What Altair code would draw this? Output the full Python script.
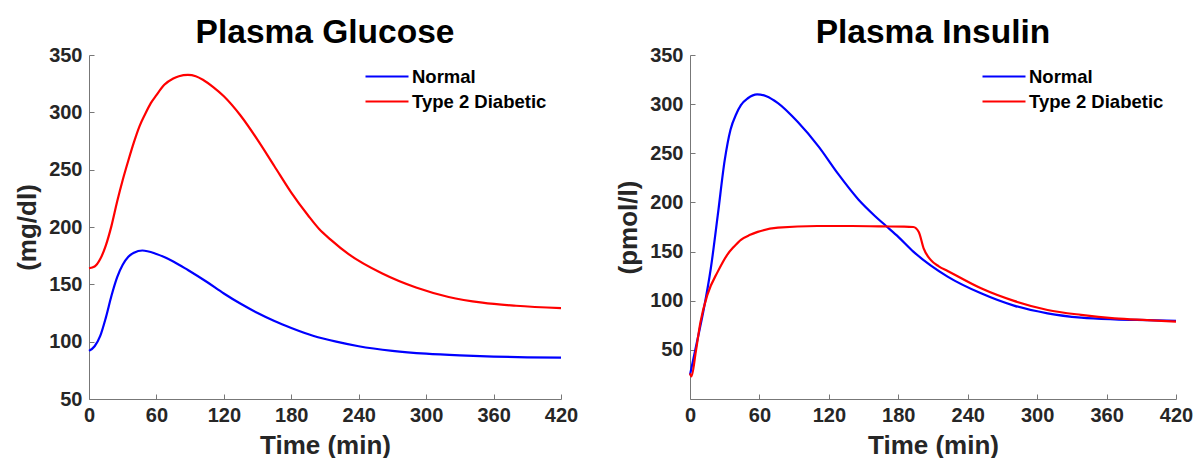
import altair as alt
import pandas as pd

SERIES = ["Normal", "Type 2 Diabetic"]
COLORS = ["#0000FF", "#FF0000"]
X_TICKS = [0, 60, 120, 180, 240, 300, 360, 420]
Y_TICKS = [50, 100, 150, 200, 250, 300, 350]

# Plasma glucose (mg/dl)
t_glu_normal = [0, 5, 10, 15, 20, 25, 30, 35, 40, 47.5, 60, 75, 88, 105, 120, 135, 150,
                165, 180, 200, 220, 240, 270, 300, 330, 360, 390, 420]
glu_normal = [92, 96, 105, 121, 140, 156, 167, 174, 177.5, 179.5, 176.5, 170, 162.5, 152,
              142, 133, 125, 118, 112, 105, 100, 96, 92, 89.5, 88, 87, 86.3, 86]

t_glu_t2d = [0, 5, 10, 15, 20, 25, 30, 35, 40, 45, 50, 55, 60, 67, 75, 80, 88, 95, 102,
             110, 120, 135, 150, 165, 180, 195, 205, 215, 231, 261, 291, 320, 350, 380, 420]
glu_t2d = [164, 165.5, 172, 184, 201, 222, 241, 258, 274, 288, 298.5, 308, 315, 324,
           329.5, 331.5, 332.6, 331.5, 328, 322.5, 314, 297, 276, 253, 230, 210, 198,
           189, 176.3, 159.4, 147.2, 139, 134, 131.3, 129.3]

# Plasma insulin (pmol/l)
t_ins_normal = [0, 6, 12, 18, 24, 30, 35, 40, 44, 50, 58, 66, 76, 93, 111, 128, 145.5,
                160, 169, 180, 193, 222.6, 251.5, 280, 309, 338, 367, 395, 420]
ins_normal = [24.6, 58, 92, 133, 187, 243, 274, 290, 299, 306, 310, 308, 301, 282, 257,
              229, 203, 186, 176.5, 165, 150, 124.5, 107.5, 95, 87.2, 82.8, 81, 80.2, 79.5]

t_ins_t2d = [0, 1.2, 5, 9, 15, 24, 32, 38, 44, 52, 58.5, 76, 110, 140, 165, 185, 193,
             197.7, 202, 208, 215, 222.6, 251.5, 280, 309, 338, 367, 395, 420]
ins_t2d = [26, 23, 48, 78, 106, 129.6, 146.5, 155, 162, 167, 170, 174.3, 176, 176,
           175.6, 175.4, 175, 170, 153, 141.5, 135, 130.3, 112.6, 99.8, 90.6,
           85.6, 82.1, 80.3, 78.8]


def frame(t_a, v_a, t_b, v_b):
    rows = [{"t": t, "v": v, "s": SERIES[0]} for t, v in zip(t_a, v_a)]
    rows += [{"t": t, "v": v, "s": SERIES[1]} for t, v in zip(t_b, v_b)]
    return pd.DataFrame(rows)


FONT = "Liberation Sans"


def panel(df, title, ytitle, ydomain, width, height, legend_x):
    xscale = alt.Scale(domain=[0, 420], nice=False)
    yscale = alt.Scale(domain=ydomain, nice=False, zero=False)
    lines = alt.Chart(df).mark_line(strokeWidth=2.2, interpolate="monotone").encode(
        x=alt.X("t:Q", scale=xscale,
                axis=alt.Axis(values=X_TICKS, title="Time (min)", ticks=False,
                              labelFlush=False, labelPadding=6, titlePadding=7)),
        y=alt.Y("v:Q", scale=yscale,
                axis=alt.Axis(values=Y_TICKS, title=ytitle, ticks=False,
                              labelPadding=7, titlePadding=8)),
        color=alt.Color("s:N", scale=alt.Scale(domain=SERIES, range=COLORS),
                        legend=alt.Legend(orient="none", legendX=legend_x, legendY=9,
                                          title=None, symbolType="stroke",
                                          symbolSize=1849, symbolStrokeWidth=2.2,
                                          clipHeight=25, rowPadding=0, labelOffset=2,
                                          padding=0, labelFont=FONT,
                                          labelFontWeight="bold", labelFontSize=18.5,
                                          labelColor="#000000")),
        order="t:Q",
    )
    # inward tick marks drawn by extra axes on identical scales
    xticks = alt.Chart(df).mark_point(opacity=0).encode(
        x=alt.X("t:Q", scale=xscale,
                axis=alt.Axis(values=X_TICKS, orient="top", offset=-height, labels=False,
                              domain=False, title=None, tickSize=5)),
    )
    yticks = alt.Chart(df).mark_point(opacity=0).encode(
        y=alt.Y("v:Q", scale=yscale,
                axis=alt.Axis(values=Y_TICKS, orient="right", offset=-width, labels=False,
                              domain=False, title=None, tickSize=5)),
    )
    return alt.layer(lines, xticks, yticks).resolve_scale(
        x="independent", y="independent"
    ).resolve_axis(x="independent", y="independent").properties(
        width=width, height=height,
        title=alt.TitleParams(title, font=FONT, fontWeight="bold", fontSize=33.5,
                              color="#000000", offset=-5),
    )


left = panel(frame(t_glu_normal, glu_normal, t_glu_t2d, glu_t2d),
             "Plasma Glucose", "(mg/dl)", [50, 350], 472, 344, 275)
right = panel(frame(t_ins_normal, ins_normal, t_ins_t2d, ins_t2d),
              "Plasma Insulin", "(pmol/l)", [0, 350], 486, 344, 291)

chart = alt.hconcat(left, right, spacing=37).resolve_scale(color="independent").properties(
    padding={"left": 14, "top": 15, "right": 5, "bottom": 0},
).configure_view(stroke=None).configure_axis(
    grid=False, labelFont=FONT, labelFontWeight="bold", labelFontSize=20,
    labelColor="#262626", titleFont=FONT, titleFontWeight="bold", titleFontSize=26,
    titleColor="#262626", domainColor="#777777", tickColor="#777777", domainWidth=1,
    tickWidth=1,
)

chart.save("out.html", embed_options={"renderer": "svg", "actions": False})
